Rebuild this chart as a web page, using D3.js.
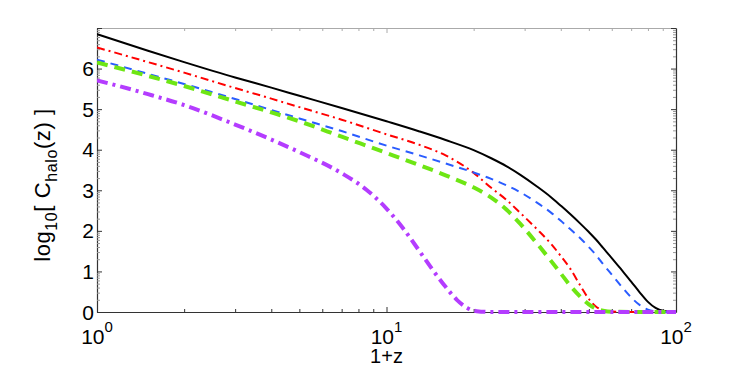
<!DOCTYPE html>
<html>
<head>
<meta charset="utf-8">
<script src="https://cdn.jsdelivr.net/npm/d3@7"></script>
<style>
  body { margin: 0; background: #fff; }
  svg { display: block; font-family: "Liberation Sans", Arial, sans-serif; }
</style>
</head>
<body>
<div class="chart"></div>
<script>
// values: 1+z and log10 C_halo for each curve
const blackZ = [1, 1.5, 2, 3, 4, 5, 7, 10, 13, 16, 20, 23, 26, 29, 33, 37, 40, 43, 47, 50, 53, 56, 60, 65, 70, 75, 80, 85, 90, 100];
const blackC = [6.85, 6.44, 6.16, 5.78, 5.53, 5.33, 5.03, 4.70, 4.45, 4.24, 3.99, 3.79, 3.59, 3.38, 3.10, 2.83, 2.62, 2.42, 2.16, 1.97, 1.78, 1.58, 1.33, 1.03, 0.75, 0.48, 0.25, 0.10, 0.03, 0];

const redZ = [1, 1.5, 2, 3, 4, 5, 7, 10, 13, 16, 20, 23, 26, 29, 33, 37, 40, 43, 47, 50, 53, 56, 60, 70, 100];
const redC = [6.52, 6.16, 5.90, 5.52, 5.26, 5.05, 4.74, 4.38, 4.12, 3.86, 3.43, 3.06, 2.76, 2.44, 2.05, 1.68, 1.38, 1.08, 0.62, 0.32, 0.13, 0.04, 0.01, 0, 0];

const blueZ = [1, 1.5, 2, 3, 4, 5, 7, 10, 13, 16, 20, 23, 26, 29, 33, 37, 40, 43, 47, 50, 53, 56, 60, 65, 70, 75, 80, 85, 90, 100];
const blueC = [6.22, 5.87, 5.62, 5.25, 4.98, 4.77, 4.46, 4.10, 3.86, 3.66, 3.44, 3.28, 3.12, 2.95, 2.70, 2.45, 2.25, 2.05, 1.80, 1.60, 1.40, 1.18, 0.92, 0.62, 0.36, 0.17, 0.06, 0.015, 0, 0];

const greenZ = [1, 1.5, 2, 3, 4, 5, 7, 10, 13, 16, 20, 23, 26, 29, 33, 37, 40, 43, 47, 50, 53, 56, 60, 100];
const greenC = [6.15, 5.82, 5.57, 5.19, 4.92, 4.70, 4.32, 3.92, 3.62, 3.37, 3.07, 2.82, 2.52, 2.17, 1.70, 1.26, 0.95, 0.66, 0.36, 0.19, 0.08, 0.03, 0.005, 0];

const purpleZ = [1, 1.5, 2, 3, 4, 5, 7, 8.5, 10, 11.5, 13, 14.5, 16, 17.5, 19, 20.5, 23, 30, 50, 100];
const purpleC = [5.71, 5.37, 5.10, 4.62, 4.25, 3.94, 3.42, 3.02, 2.55, 2.03, 1.50, 1.02, 0.62, 0.30, 0.10, 0.02, 0, 0, 0, 0];

const yTicks = [0, 1, 2, 3, 4, 5, 6];
const xTicks = [1, 10, 100];

const series = [
  {z: blackZ, c: blackC, color: "#000000", width: 2, dash: null},
  {z: redZ, c: redC, color: "#ff0000", width: 2, dash: "8,4,2,4"},
  {z: blueZ, c: blueC, color: "#2a5cff", width: 2, dash: "8,6"},
  {z: greenZ, c: greenC, color: "#6ee614", width: 4, dash: "11,7"},
  {z: purpleZ, c: purpleC, color: "#b43cff", width: 4, dash: "11,5,3,5"}
];

const W = 747, H = 371;
const margin = {top: 28, right: 71, bottom: 59, left: 97};
const width = W - margin.left - margin.right;
const height = H - margin.top - margin.bottom;

const svg = d3.select(".chart").append("svg")
  .attr("width", W)
  .attr("height", H)
  .append("g")
  .attr("transform", `translate(${margin.left},${margin.top})`);

const xScale = d3.scaleLog().domain([1, 100]).range([0, width]);
const yScale = d3.scaleLinear().domain([0, 7]).range([height, 0]);

// minor ticks
const xMinor = [];
[1, 10].forEach(d => { for (let k = 2; k <= 9; k++) xMinor.push(d * k); });
const yMinor = [];
for (let i = 0; i < 7; i++) for (let k = 2; k <= 9; k++) yMinor.push(i + Math.log10(k));

const axisColor = "#333";

function drawAxis(axis, cls, transform, color) {
  const g = svg.append("g").attr("class", cls).attr("transform", transform).call(axis);
  g.selectAll("text").remove();
  g.select(".domain").attr("stroke", color).attr("stroke-width", 1.2);
  g.selectAll(".tick line").attr("stroke", color);
  return g;
}

// major ticks inward
drawAxis(d3.axisBottom(xScale).tickValues(xTicks).tickSizeInner(-5).tickSizeOuter(0),
  "x-axis", `translate(0,${height})`, axisColor);
drawAxis(d3.axisTop(xScale).tickValues(xTicks).tickSizeInner(-5).tickSizeOuter(0),
  "x-top", "translate(0,0)", "#aaa");
drawAxis(d3.axisLeft(yScale).tickValues(d3.range(0, 8)).tickSizeInner(-5).tickSizeOuter(0),
  "y-axis", "translate(0,0)", axisColor);
drawAxis(d3.axisRight(yScale).tickValues(d3.range(0, 8)).tickSizeInner(-5).tickSizeOuter(0),
  "y-right", `translate(${width},0)`, axisColor);

// minor ticks
drawAxis(d3.axisBottom(xScale).tickValues(xMinor).tickSizeInner(-3).tickSizeOuter(0),
  "x-minor", `translate(0,${height})`, axisColor).select(".domain").remove();
drawAxis(d3.axisTop(xScale).tickValues(xMinor).tickSizeInner(-3).tickSizeOuter(0),
  "x-minor-top", "translate(0,0)", "#aaa").select(".domain").remove();
drawAxis(d3.axisLeft(yScale).tickValues(yMinor).tickSizeInner(-3).tickSizeOuter(0),
  "y-minor", "translate(0,0)", "#999").select(".domain").remove();
drawAxis(d3.axisRight(yScale).tickValues(yMinor).tickSizeInner(-3).tickSizeOuter(0),
  "y-minor-right", `translate(${width},0)`, "#999").select(".domain").remove();

// y tick labels
svg.selectAll(".ylab")
  .data(yTicks)
  .enter()
  .append("text")
  .attr("class", "ylab")
  .attr("x", -3)
  .attr("y", d => yScale(d))
  .attr("dy", "0.36em")
  .attr("text-anchor", "end")
  .attr("font-size", "21px")
  .text(d => d);

// x tick labels with superscripts
const xl = svg.selectAll(".xlab")
  .data(xTicks)
  .enter()
  .append("text")
  .attr("class", "xlab")
  .attr("x", d => xScale(d))
  .attr("y", height + 32)
  .attr("text-anchor", "middle")
  .attr("font-size", "21px");
xl.append("tspan").text("10");
xl.append("tspan").attr("dy", -12).attr("font-size", "15px").text(d => Math.round(Math.log10(d)));

svg.append("text")
  .attr("class", "axis-title")
  .attr("x", xScale(10))
  .attr("y", height + 51)
  .attr("text-anchor", "middle")
  .attr("font-size", "20px")
  .text("1+z");

const yt = svg.append("text")
  .attr("class", "axis-title")
  .attr("transform", `translate(${50 - margin.left},${185 - margin.top}) rotate(-90)`)
  .attr("text-anchor", "middle")
  .attr("font-size", "22px")
  .attr("letter-spacing", "0.6px");
yt.append("tspan").text("log");
yt.append("tspan").attr("dy", 7).attr("font-size", "16px").text("10");
yt.append("tspan").attr("dy", -7).text("[ C");
yt.append("tspan").attr("dy", 7).attr("font-size", "16px").text("halo");
yt.append("tspan").attr("dy", -7).text("(z) ]");

// curves
svg.append("clipPath").attr("id", "clip")
  .append("rect").attr("x", 0).attr("y", -2).attr("width", width).attr("height", height + 4);

const line = d3.line()
  .x(d => xScale(d[0]))
  .y(d => yScale(d[1]))
  .curve(d3.curveMonotoneX);

svg.append("g").attr("clip-path", "url(#clip)")
  .selectAll("path")
  .data(series)
  .enter()
  .append("path")
  .attr("d", s => line(s.z.map((z, i) => [z, s.c[i]])))
  .attr("fill", "none")
  .attr("stroke", s => s.color)
  .attr("stroke-width", s => s.width)
  .attr("stroke-dasharray", s => s.dash);
</script>
</body>
</html>
